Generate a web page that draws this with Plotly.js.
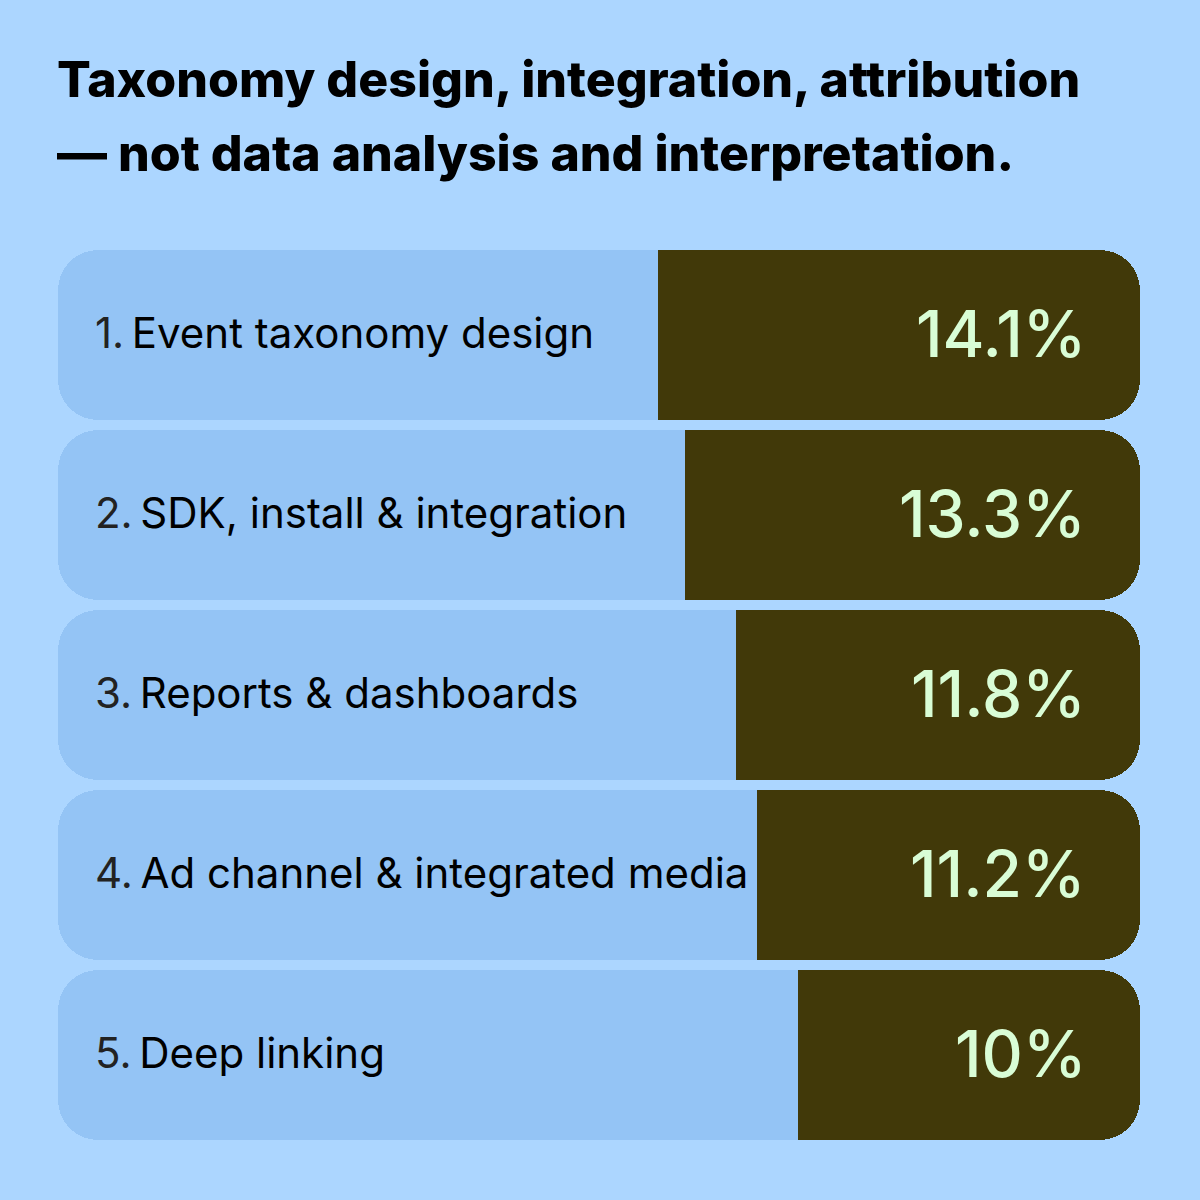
<!DOCTYPE html>
<html>
<head>
<meta charset="utf-8">
<script src="https://cdn.plot.ly/plotly-3.0.1.min.js"></script>
<style>
  html, body { margin: 0; padding: 0; background: #acd6ff; }
  #chart { width: 1200px; height: 1200px; }
</style>
</head>
<body>
<div id="chart"></div>
<script>
// ---- data ----
const ranks = ["1.", "2.", "3.", "4.", "5."];
const categories = [
  "Event taxonomy design",
  "SDK, install & integration",
  "Reports & dashboards",
  "Ad channel & integrated media",
  "Deep linking"
];
const values = [14.1, 13.3, 11.8, 11.2, 10];
const valueLabels = ["14.1%", "13.3%", "11.8%", "11.2%", "10%"];
const titleLines = [
  "Taxonomy design, integration, attribution",
  "— not data analysis and interpretation."
];
// full length of each row, in the same units as the values
const TOTAL = 31.64;

// ---- styles ----
const BG = "#acd6ff";
const ROW = "#94c4f5";
const DARK = "#413909";
const VALUE_COLOR = "#d9fdd6";
const FONT = "Inter, 'Open Sans', sans-serif";

// light row behind each bar (has a base -> drawn in overlay, all corners rounded)
const rowTrace = {
  type: "bar",
  orientation: "h",
  y: categories,
  x: categories.map(() => TOTAL),
  base: categories.map(() => 0),
  marker: { color: ROW, cornerradius: 40, line: { width: 0 } },
  hoverinfo: "skip",
  showlegend: false
};
// invisible spacer so the value bar ends at the right edge of the row
const spacerTrace = {
  type: "bar",
  orientation: "h",
  y: categories,
  x: values.map(v => TOTAL - v),
  marker: { color: "rgba(0,0,0,0)", line: { width: 0 } },
  hoverinfo: "skip",
  showlegend: false
};
// value bar, stacked on the spacer -> only its outer (right) end is rounded
const valueTrace = {
  type: "bar",
  orientation: "h",
  y: categories,
  x: values,
  marker: { color: DARK, cornerradius: 40, line: { width: 0 } },
  hoverinfo: "skip",
  showlegend: false
};

const annotations = [];
categories.forEach((c, i) => {
  annotations.push({
    xref: "x", yref: "y", x: 0, y: c,
    xanchor: "left", yanchor: "middle", xshift: 35, yshift: 3,
    showarrow: false,
    text: '<span style="color:#222222">' + ranks[i] + '</span>\u2009' + c,
    font: { family: FONT, size: 42, color: "#000000", weight: 400 }
  });
  annotations.push({
    xref: "x", yref: "y", x: TOTAL, y: c,
    xanchor: "right", yanchor: "middle", xshift: -52, yshift: 2,
    showarrow: false,
    text: valueLabels[i],
    font: { family: FONT, size: 64, color: VALUE_COLOR, weight: 500 }
  });
});
const titleY = [1.184, 1.102];
titleLines.forEach((t, i) => {
  annotations.push({
    xref: "paper", yref: "paper", x: 0, y: titleY[i],
    xanchor: "left", yanchor: "middle", xshift: -3,
    showarrow: false,
    text: t,
    font: { family: FONT, size: 50, color: "#000000", weight: 800 }
  });
});

const layout = {
  width: 1200, height: 1200,
  paper_bgcolor: BG, plot_bgcolor: BG,
  margin: { l: 58, r: 60, t: 245, b: 55, pad: 0 },
  barmode: "stack",
  bargap: 1 / 18,
  showlegend: false,
  xaxis: { range: [0, TOTAL], visible: false, fixedrange: true },
  yaxis: { autorange: "reversed", visible: false, fixedrange: true, type: "category" },
  annotations: annotations
};

Plotly.newPlot("chart", [rowTrace, spacerTrace, valueTrace], layout, { displayModeBar: false, staticPlot: true });
</script>
</body>
</html>
